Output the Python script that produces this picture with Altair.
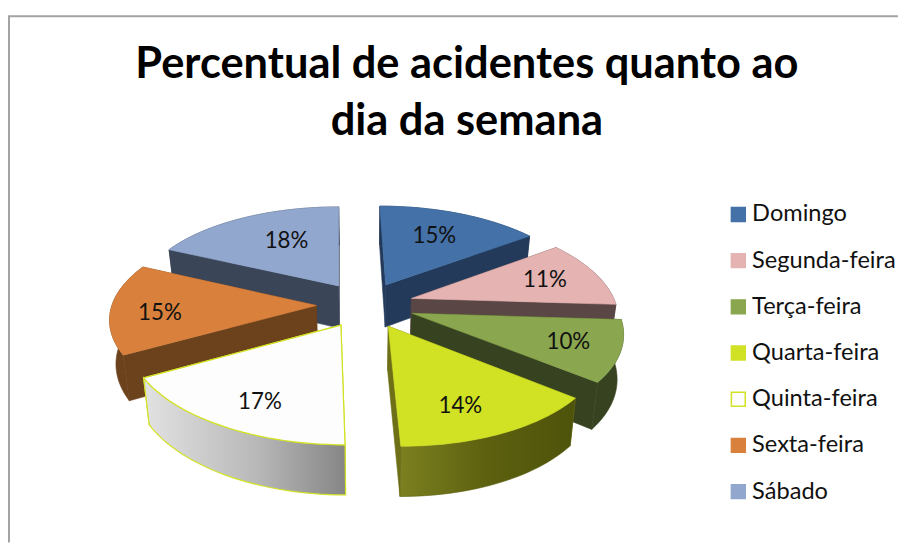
import math
import altair as alt

days = ["Domingo", "Segunda-feira", "Terça-feira", "Quarta-feira", "Quinta-feira", "Sexta-feira", "Sábado"]
percent = [15, 11, 10, 14, 17, 15, 18]
top_colors = ["#4472a8", "#e4b3b2", "#8aa64e", "#d1e124", "#fdfdfd", "#d9813c", "#92a7ce"]
wall_colors = ["#233a5b", "#5a4645", "#374320", "#6d7016", "#c8c8c8", "#6c421d", "#3a4558"]
line_colors = ["#4472a8", "#e4b3b2", "#8aa64e", "#d1e124", "#d1e124", "#d9813c", "#92a7ce"]
title_lines = ["Percentual de acidentes quanto ao", "dia da semana"]

W, H = 898, 537
CX, CY = 360.5, 297.0
A, B, K, EXPLODE = 206.0, 96.5, 0.146, 0.24
# where each percentage sits inside its slice: share of the sweep, share of the radius
LABEL_SPOT = {
    "Domingo": (0.48, 0.66), "Segunda-feira": (0.5, 0.72), "Terça-feira": (0.5, 0.76),
    "Quarta-feira": (0.58, 0.75), "Quinta-feira": (0.45, 0.77), "Sexta-feira": (0.42, 0.76),
    "Sábado": (0.57, 0.60),
}


def top_point(u, v):
    s = 1 / (1 - K * v)
    return (CX + A * u * s + 6 * v + 2 * v * v, CY + B * v * s)


def base_point(p):
    return (CX + (p[0] - CX) * 0.975, CY + (p[1] - CY) * 1.05 + 43.5)


def poly(points):
    ring = [[round(x, 2), round(y, 2)] for x, y in points]
    ring.append(ring[0])
    return {"type": "Polygon", "coordinates": [ring]}


def feature(key, points):
    return {"type": "Feature", "geometry": poly(points), "properties": {"key": key}}


slices = {}
total = sum(percent)
acc = 0
for day, pct in zip(days, percent):
    a0 = acc / total * 2 * math.pi
    acc += pct
    a1 = acc / total * 2 * math.pi
    mid = (a0 + a1) / 2
    ou, ov = EXPLODE * math.sin(mid), -EXPLODE * math.cos(mid)
    tip = top_point(ou, ov)
    steps = 30
    arc = []
    for i in range(steps + 1):
        t = a0 + (a1 - a0) * i / steps
        arc.append(top_point(ou + math.sin(t), ov - math.cos(t)))
    low_tip = base_point(tip)
    low_arc = [base_point(p) for p in arc]
    share, radius = LABEL_SPOT[day]
    t = a0 + (a1 - a0) * share
    label = top_point(ou + radius * math.sin(t), ov - radius * math.cos(t))
    slices[day] = dict(
        top=feature(day, [tip] + arc),
        radial=[
            feature(day + " lado", [tip, arc[0], low_arc[0], low_tip]),
            feature(day + " lado", [tip, arc[-1], low_arc[-1], low_tip]),
        ],
        outer=feature(day + " lado", arc + low_arc[::-1]),
        label=label,
    )

domain = days + [d + " lado" for d in days]
fill_scale = alt.Scale(domain=domain, range=top_colors + wall_colors)
stroke_scale = alt.Scale(domain=domain, range=line_colors + [w if d != "Quinta-feira" else "#d1e124" for d, w in zip(days, wall_colors)])
legend = alt.Legend(
    title=None, values=days, orient="none", legendX=725, legendY=194, padding=0,
    symbolType="square", symbolSize=196, symbolStrokeWidth=1.5, symbolOpacity=1,
    labelFont="Lato", labelFontSize=23.8, labelColor="#111111", labelOffset=2,
    rowPadding=21.6, labelLimit=200,
)
proj = alt.Projection(type="identity", scale=1, translate=[0, 0])


def flat_layer(features, width=0.6):
    return (
        alt.Chart(alt.Data(values=features))
        .mark_geoshape(strokeWidth=width)
        .encode(
            fill=alt.Fill("properties.key:N", scale=fill_scale, legend=legend),
            stroke=alt.Stroke("properties.key:N", scale=stroke_scale, legend=legend),
        )
        .project(**proj.to_dict())
    )


def gradient_layer(feat, stops, stroke, width):
    grad = alt.Gradient(
        gradient="linear", x1=0, x2=1, y1=0, y2=0,
        stops=[alt.GradientStop(color=c, offset=o) for c, o in stops],
    )
    return (
        alt.Chart(alt.Data(values=[feat]))
        .mark_geoshape(fill=grad, stroke=stroke, strokeWidth=width)
        .project(**proj.to_dict())
    )


back = []
for d in ["Domingo", "Sábado", "Segunda-feira", "Sexta-feira", "Terça-feira"]:
    s = slices[d]
    back += s["radial"] + [s["outer"], s["top"]]

qui, qua = slices["Quinta-feira"], slices["Quarta-feira"]

layers = [
    flat_layer(back),
    flat_layer(qui["radial"], 1.2),
    gradient_layer(qui["outer"], [("#e2e2e2", 0), ("#b9b9b9", 0.55), ("#868686", 1)], "#d1e124", 1.2),
    flat_layer([qui["top"]], 1.2),
    flat_layer(qua["radial"]),
    gradient_layer(qua["outer"], [("#7c8020", 0), ("#5c600f", 0.5), ("#4e530b", 1)], "#5c600f", 0.6),
    flat_layer([qua["top"]]),
]

label_rows = [
    {"day": d, "pct": f"{p}%", "px": slices[d]["label"][0], "py": slices[d]["label"][1]}
    for d, p in zip(days, percent)
]
labels = (
    alt.Chart(alt.Data(values=label_rows))
    .mark_text(font="Lato", fontSize=22.5, color="#111111")
    .encode(
        x=alt.X("px:Q", scale=None, axis=None),
        y=alt.Y("py:Q", scale=None, axis=None),
        text="pct:N",
    )
)

frame_top = alt.Chart(alt.Data(values=[{"a": 0}])).mark_rule(color="#a3a3a3", strokeWidth=2).encode(
    x=alt.value(0), x2=alt.value(W), y=alt.value(6)
)
frame_left = alt.Chart(alt.Data(values=[{"a": 0}])).mark_rule(color="#a3a3a3", strokeWidth=2).encode(
    x=alt.value(1), y=alt.value(6), y2=alt.value(H)
)

chart = (
    alt.layer(frame_top, frame_left, *layers, labels)
    .properties(
        width=W, height=H, padding=0, background="white",
        autosize=alt.AutoSizeParams(type="none"),
        title=alt.TitleParams(
            text=title_lines, font="Lato", fontSize=43.8, fontWeight="bold", color="#000000",
            anchor="start", frame="group", align="center", dx=463, dy=139, lineHeight=58,
        ),
    )
    .configure_view(stroke=None)
)
chart.save("out.html", embed_options={"renderer": "svg", "actions": False})
